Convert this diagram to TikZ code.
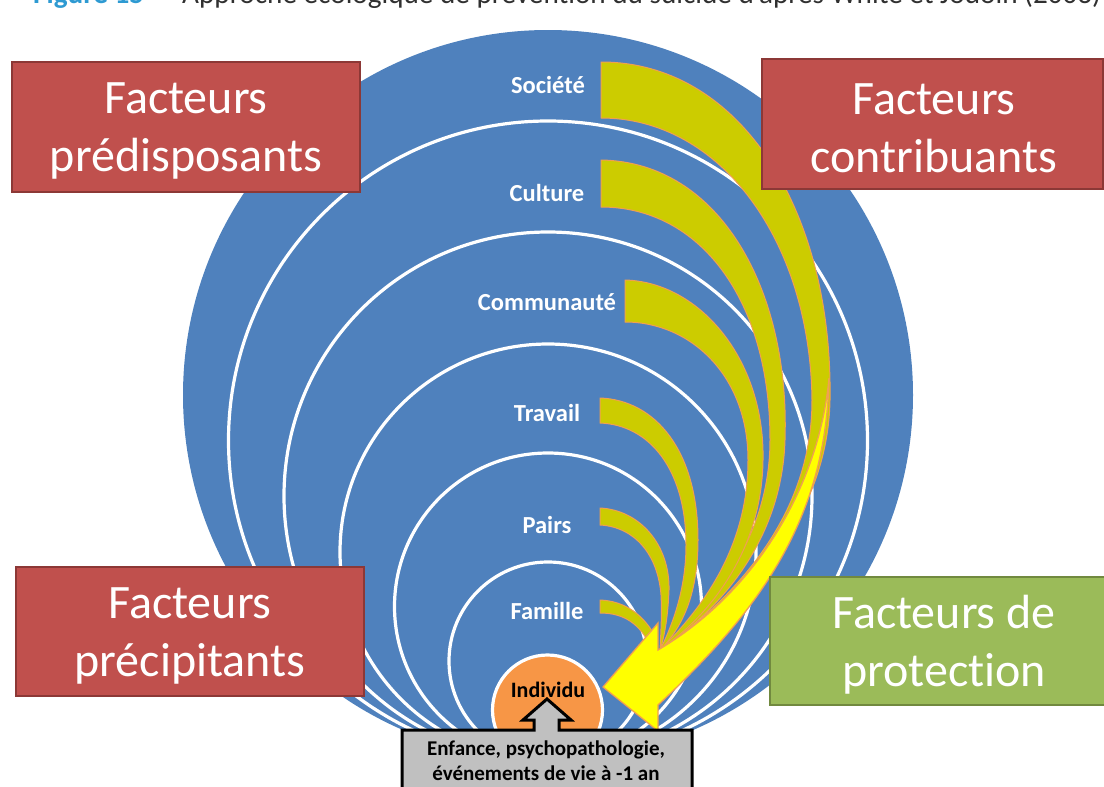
\documentclass[tikz,border=0pt]{standalone}
\usepackage{fontspec}
\setmainfont{Carlito}[Ligatures=NoCommon]
\definecolor{ringblue}{HTML}{4F81BD}
\definecolor{boxred}{HTML}{C0504D}
\definecolor{boxredline}{HTML}{8C3836}
\definecolor{boxgreen}{HTML}{9BBB59}
\definecolor{boxgreenline}{HTML}{71893F}
\definecolor{coreorange}{HTML}{F79646}
\definecolor{bandolive}{HTML}{CCCC00}
\definecolor{bandedge}{HTML}{F0A050}
\definecolor{arrowyellow}{HTML}{FFFF00}
\definecolor{calloutgray}{HTML}{C0C0C0}
\definecolor{captionblue}{HTML}{2E9AD2}
\definecolor{captiongray}{HTML}{303030}
\tikzset{
  ring/.style={circle, draw=white, line width=3.2pt, fill=ringblue, inner sep=0pt},
  ringlabel/.style={text=white, font=\fontsize{24.5}{29}\selectfont\bfseries, inner sep=0pt},
  factorbox/.style={rectangle, fill=boxred, draw=boxredline, line width=2.5pt, inner sep=0pt},
  protectbox/.style={factorbox, fill=boxgreen, draw=boxgreenline},
  factortext/.style={text=white, align=center, font=\fontsize{48}{58}\selectfont, inner sep=0pt},
  captiontext/.style={anchor=base west, inner sep=0pt, font=\fontsize{29.2}{34}\selectfont},
  band/.style={fill=bandolive, draw=bandedge, line width=1pt, line join=round},
  bigarrow/.style={fill=arrowyellow, draw=bandedge, line width=1.3pt, line join=miter},
  callout/.style={fill=calloutgray, draw=black, line width=3pt, line join=miter},
}
\begin{document}
\begin{tikzpicture}[x=1pt,y=-1pt]
\useasboundingbox (0,0) rectangle (1104,787);
\begin{scope}
\clip (0,0) rectangle (1104,787);

% caption line, mostly above the page edge
\node[captiontext, text=captionblue, font=\fontsize{29.2}{34}\selectfont\bfseries] (capnum) at (33,4) {Figure 15};
\node[captiontext, text=captiongray] (capdash) at (157,4) {–};
\node[captiontext, text=captiongray] (captitle) at (182,4)
  {Approche écologique de prévention du suicide d'après White et Jodoin (2003)};

% nested circles, all touching at the bottom
\node[circle, fill=ringblue, inner sep=0pt, minimum size=730pt] (societe) at (548,395) {};
\node[ring, minimum size=639pt] (culture) at (548,440.5) {};
\node[ring, minimum size=528pt] (communaute) at (548,496) {};
\node[ring, minimum size=416pt] (travail) at (548,552) {};
\node[ring, minimum size=307pt] (pairs) at (548,606.5) {};
\node[ring, minimum size=198pt] (famille) at (548,661) {};
\node[ring, fill=coreorange, minimum size=110pt] (individu) at (547.5,710) {};

% ring labels
\node[ringlabel] (lsociete) at (548,85) {Société};
\node[ringlabel] (lculture) at (547,193) {Culture};
\node[ringlabel] (lcommunaute) at (547,302) {Communauté};
\node[ringlabel] (ltravail) at (547,413) {Travail};
\node[ringlabel] (lpairs) at (547,525) {Pairs};
\node[ringlabel] (lfamille) at (547,611) {Famille};
\node[inner sep=0pt, font=\fontsize{22}{26}\selectfont\bfseries] (lindividu) at (548,690) {Individu};

% curved bands from each level towards the individual
\draw[band] (601,62) .. controls (740,62) and (833,210) .. (830,400)
  .. controls (828,520) and (740,610) .. (662,650)
  .. controls (730,600) and (812,520) .. (812,400)
  .. controls (810,240) and (720,118) .. (601,118) -- cycle;
\draw[band] (601,160) .. controls (720,162) and (790,290) .. (785,440)
  .. controls (782,540) and (720,610) .. (662,648)
  .. controls (720,600) and (770,530) .. (770,440)
  .. controls (770,300) and (700,207) .. (601,207) -- cycle;
\draw[band] (625,280) .. controls (700,282) and (765,360) .. (763,460)
  .. controls (762,550) and (710,615) .. (662,648)
  .. controls (705,605) and (748,545) .. (748,460)
  .. controls (748,375) and (690,322) .. (625,322) -- cycle;
\draw[band] (600,398) .. controls (655,400) and (698,450) .. (698,540)
  .. controls (698,590) and (685,625) .. (660,650)
  .. controls (675,620) and (686,585) .. (686,545)
  .. controls (686,470) and (650,425) .. (600,423) -- cycle;
\draw[band] (600,508) .. controls (640,510) and (670,545) .. (669,590)
  .. controls (668,615) and (665,635) .. (660,650)
  .. controls (661,630) and (662,612) .. (661,595)
  .. controls (658,555) and (635,527) .. (600,525) -- cycle;
\draw[band] (600,600) .. controls (625,601) and (645,615) .. (657,640)
  -- (650,645) .. controls (640,625) and (625,613) .. (600,613) -- cycle;

% large curved arrow pointing at the individual
\draw[bigarrow] (829,378) .. controls (826,520) and (760,610) .. (658,705)
  -- (658,731) -- (603,687) -- (658,623) -- (658,650)
  .. controls (760,590) and (820,480) .. (829,378) -- cycle;

% factor boxes
\node[factorbox, minimum width=348pt, minimum height=130pt] (predisposants) at (186,127) {};
\node[factortext] (tpredisposants) at (186,131) {Facteurs\\prédisposants};
\node[factorbox, minimum width=341pt, minimum height=130pt] (contribuants) at (932.5,124) {};
\node[factortext] (tcontribuants) at (934,128) {Facteurs\\contribuants};
\node[factorbox, minimum width=348pt, minimum height=129pt] (precipitants) at (190,631.5) {};
\node[factortext] (tprecipitants) at (190,636) {Facteurs\\précipitants};
\node[protectbox, minimum width=348pt, minimum height=128pt] (protection) at (944,641) {};
\node[factortext] (tprotection) at (944,645) {Facteurs de\\protection};

% callout box with its arrow towards the individual
\draw[callout] (402,730) -- (534,730) -- (534,720) -- (523,720) -- (547,699) -- (571,720)
  -- (559,720) -- (559,730) -- (692,730) -- (692,795) -- (402,795) -- cycle;
\node[inner sep=0pt, align=center, font=\fontsize{21}{25}\selectfont\bfseries] (history) at (546,761)
  {Enfance, psychopathologie,\\événements de vie à -1 an};
\end{scope}
\end{tikzpicture}
\end{document}
